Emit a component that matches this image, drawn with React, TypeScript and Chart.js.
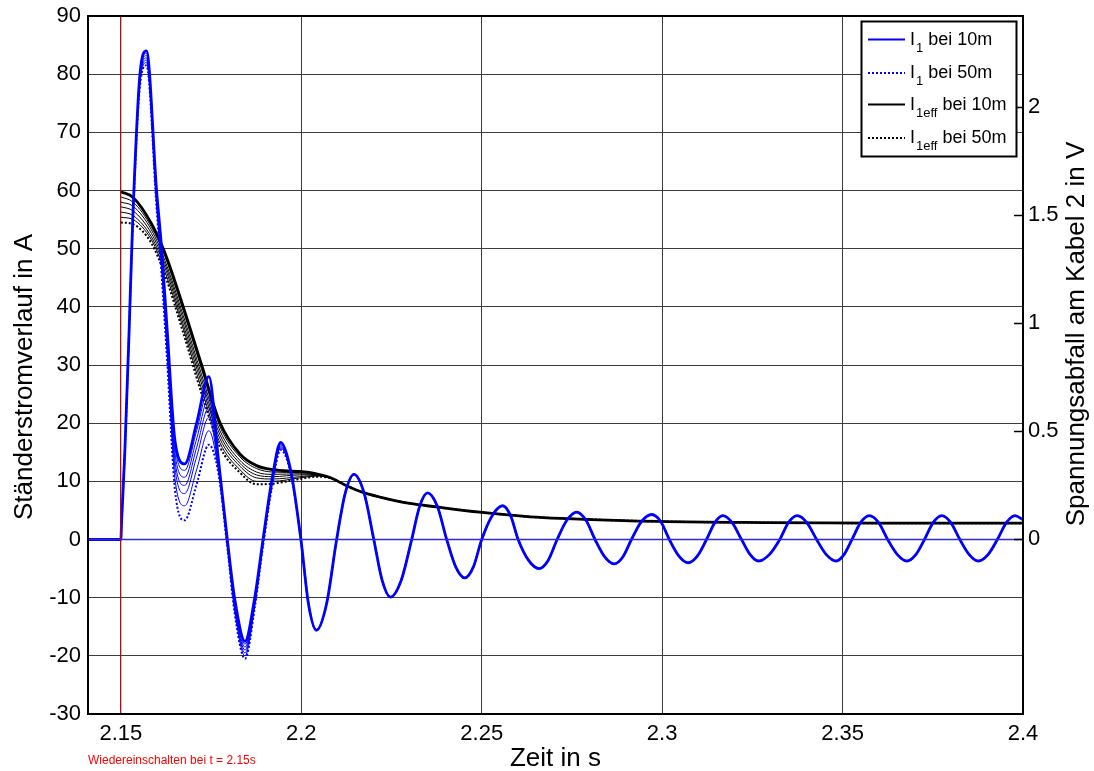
import React, { useEffect, useRef } from "react";
import { Chart, registerables } from "chart.js";

Chart.register(...registerables);

// ---------- axes ----------
const X_MIN = 2.1409;
const X_MAX = 2.4;
const X_TICKS = [2.15, 2.2, 2.25, 2.3, 2.35, 2.4];
const Y_LEFT_MIN = -30;
const Y_LEFT_MAX = 90;
const Y_RIGHT_MIN = -0.81;
const Y_RIGHT_MAX = 2.42;
const Y_RIGHT_TICKS = [0, 0.5, 1, 1.5, 2];

const X_TITLE = "Zeit in s";
const Y_LEFT_TITLE = "Ständerstromverlauf in A";
const Y_RIGHT_TITLE = "Spannungsabfall am Kabel 2 in V";
const NOTE_TEXT = "Wiedereinschalten bei t = 2.15s";
const SWITCH_TIME = 2.15;

// ---------- I1 (stator current), 7 cable lengths: 10m ... 50m ----------
const T_I1_HEAD = [2.1409, 2.15, 2.1502, 2.1511, 2.1523, 2.1533, 2.1553, 2.1571, 2.1599, 2.1613, 2.1628, 2.165, 2.1677, 2.171, 2.1744, 2.177, 2.1795, 2.1815, 2.1844, 2.1871, 2.1894, 2.1918, 2.1943, 2.1971];
const I1_10M_HEAD = [0, 0, 3, 15, 36, 55, 80, 84, 60, 50, 36.4, 17, 13, 20, 28, 14, 0, -10, -17.5, -10, 0, 10, 16.7, 11.8];
const I1_B_HEAD = [0, 0, 3, 15, 36, 55, 79.7, 83.6, 59.5, 49.3, 35.6, 16, 11.9, 18.7, 25.9, 13.6, -0.2, -10.4, -18, -10.3, -0.2, 9.8, 16.5, 11.7];
const I1_C_HEAD = [0, 0, 3, 15, 36, 55, 79.4, 83.2, 59, 48.6, 34.8, 14.8, 10.7, 17.3, 24.4, 13.2, -0.4, -10.8, -18.5, -10.6, -0.4, 9.6, 16.3, 11.6];
const I1_D_HEAD = [0, 0, 3, 15, 36, 55, 79.1, 82.8, 58.5, 47.9, 34, 13.6, 9.3, 15.8, 22.7, 12.8, -0.6, -11.2, -19, -10.9, -0.6, 9.4, 16.1, 11.5];
const I1_E_HEAD = [0, 0, 3, 15, 36, 55, 78.8, 82.4, 58, 47.2, 33.2, 12.3, 7.9, 14.2, 21, 12.4, -0.8, -11.6, -19.5, -11.2, -0.8, 9.2, 15.9, 11.4];
const I1_F_HEAD = [0, 0, 3, 15, 36, 55, 78.5, 82, 57.5, 46.5, 32.2, 10.5, 5.8, 12, 18.7, 12, -1, -12, -20, -11.5, -1, 9, 15.7, 11.3];
const I1_50M_HEAD = [0, 0, 3, 15, 36, 54, 78, 81.5, 57, 45.5, 31, 8.5, 3.3, 9.5, 16.3, 11.5, -1.3, -12.5, -20.5, -11.8, -1.2, 8.7, 15.4, 11.2];

// common decaying 50 Hz oscillation after the transients (shared by all cable lengths)
const T_I1_TAIL = [
  2.1999, 2.202, 2.2042, 2.207, 2.2098, 2.2122, 2.2146, 2.2174, 2.2201, 2.2224, 2.2247, 2.2277,
  2.2306, 2.2328, 2.235, 2.2377, 2.2403, 2.2428, 2.2453, 2.2477, 2.25, 2.2529, 2.2558, 2.258,
  2.2601, 2.263, 2.2659, 2.2684, 2.2709, 2.2736, 2.2763, 2.2789, 2.2814, 2.2841, 2.2867, 2.2891,
  2.2915, 2.2943, 2.2971, 2.2996, 2.302, 2.3046, 2.3072, 2.3098, 2.3123, 2.3146, 2.3168, 2.3194,
  2.322, 2.3244, 2.3267, 2.3297, 2.3326, 2.335, 2.3374, 2.3401, 2.3428, 2.3455, 2.3482, 2.3504,
  2.3526, 2.355, 2.3574, 2.36, 2.3625, 2.3652, 2.3678, 2.3703, 2.3727, 2.3751, 2.3775, 2.38,
  2.3825, 2.3851, 2.3876, 2.3903, 2.3929, 2.3954, 2.3978, 2.4,
];
const I1_TAIL = [
  0, -11.1, -15.6, -11.1, 0, 8.0, 11.2, 8.0, 0, -7.0, -9.9, -7.0,
  0, 5.7, 8.0, 5.7, 0, -4.7, -6.6, -4.7, 0, 4.1, 5.8, 4.1,
  0, -3.6, -5.0, -3.6, 0, 3.3, 4.7, 3.3, 0, -3.0, -4.2, -3.0,
  0, 3.1, 4.3, 3.1, 0, -2.8, -4.0, -2.8, 0, 2.9, 4.1, 2.9,
  0, -2.6, -3.7, -2.6, 0, 2.9, 4.1, 2.9, 0, -2.6, -3.7, -2.6,
  0, 2.9, 4.1, 2.9, 0, -2.6, -3.7, -2.6, 0, 2.9, 4.1, 2.9,
  0, -2.6, -3.7, -2.6, 0, 2.9, 4.1, 3.4,
];

// ---------- I1eff (rms current), 7 cable lengths ----------
const T_EFF_HEAD = [2.15, 2.1534, 2.1585, 2.1622, 2.1673, 2.1724, 2.1774, 2.183, 2.1876, 2.1921, 2.1996, 2.2042, 2.2078];
const EFF_10M_HEAD = [59.8, 58.8, 54.3, 49.3, 40.0, 30.0, 20.2, 14.7, 12.7, 12.0, 11.7, 11.3, 10.7];
const EFF_B_HEAD = [58.9, 58.0, 53.7, 48.7, 39.3, 29.2, 19.5, 14.2, 12.2, 11.6, 11.5, 11.2, 10.7];
const EFF_C_HEAD = [58.0, 57.3, 53.2, 48.0, 38.5, 28.3, 18.8, 13.6, 11.6, 11.2, 11.3, 11.1, 10.7];
const EFF_D_HEAD = [57.2, 56.5, 52.6, 47.4, 37.8, 27.5, 18.1, 13.1, 11.1, 10.8, 11.1, 11.1, 10.7];
const EFF_E_HEAD = [56.3, 55.7, 52.0, 46.8, 37.0, 26.7, 17.4, 12.6, 10.6, 10.4, 10.8, 11.0, 10.6];
const EFF_F_HEAD = [55.4, 55.0, 51.5, 46.1, 36.3, 25.8, 16.7, 12.0, 10.0, 10.0, 10.6, 10.9, 10.6];
const EFF_50M_HEAD = [54.5, 54.2, 50.9, 45.5, 35.5, 25.0, 16.0, 11.5, 9.5, 9.6, 10.4, 10.8, 10.6];

const T_EFF_TAIL = [2.2124, 2.2171, 2.2218, 2.2301, 2.2375, 2.2495, 2.2634, 2.2735, 2.2994, 2.329, 2.36, 2.4];
const EFF_TAIL = [9.3, 8.1, 7.3, 6.2, 5.6, 4.7, 3.9, 3.6, 3.1, 2.9, 2.8, 2.8];

// ---------- legend ----------
const LEGEND_ITEMS = [
  { main: "I", sub: "1", rest: " bei 10m", color: "#0000ff", dash: [] as number[] },
  { main: "I", sub: "1", rest: " bei 50m", color: "#0000ff", dash: [2, 2] },
  { main: "I", sub: "1eff", rest: " bei 10m", color: "#000000", dash: [] as number[] },
  { main: "I", sub: "1eff", rest: " bei 50m", color: "#000000", dash: [2, 2] },
];

const FONT = '"Liberation Sans", Arial, Helvetica, sans-serif';

function pts(ts: number[], vs: number[]) {
  return ts.map((t, i) => ({ x: t, y: vs[i] }));
}

type Kind = "thick" | "thin" | "dotted";

function curve(data: { x: number; y: number }[], color: string, kind: Kind) {
  return {
    data,
    borderColor: color,
    backgroundColor: color,
    borderWidth: kind === "thick" ? 2.8 : kind === "dotted" ? 2 : 1,
    borderDash: kind === "dotted" ? [2, 2] : [],
    pointRadius: 0,
    fill: false,
    cubicInterpolationMode: "monotone" as const,
    yAxisID: "y",
  };
}

const overlayPlugin = {
  id: "overlay",
  afterDraw(chart: any) {
    const ctx: CanvasRenderingContext2D = chart.ctx;
    const a = chart.chartArea;
    ctx.save();
    // frame
    ctx.strokeStyle = "#000";
    ctx.lineWidth = 2;
    ctx.setLineDash([]);
    ctx.strokeRect(a.left, a.top, a.right - a.left, a.bottom - a.top);
    // inward ticks of the right axis
    const y2 = chart.scales.y2;
    ctx.lineWidth = 1.5;
    Y_RIGHT_TICKS.forEach((v) => {
      const y = Math.round(y2.getPixelForValue(v)) + 0.5;
      ctx.beginPath();
      ctx.moveTo(a.right - 9, y);
      ctx.lineTo(a.right, y);
      ctx.stroke();
    });

    // axis titles
    ctx.fillStyle = "#000";
    ctx.font = `26px ${FONT}`;
    ctx.textAlign = "center";
    ctx.textBaseline = "middle";
    ctx.fillText(X_TITLE, (a.left + a.right) / 2, 759);
    ctx.save();
    ctx.translate(25, 377);
    ctx.rotate(-Math.PI / 2);
    ctx.fillText(Y_LEFT_TITLE, 0, 0);
    ctx.restore();
    ctx.save();
    ctx.translate(1077, 334);
    ctx.rotate(-Math.PI / 2);
    ctx.fillText(Y_RIGHT_TITLE, 0, 0);
    ctx.restore();

    // note
    ctx.fillStyle = "#ff0000";
    ctx.font = `12px ${FONT}`;
    ctx.textAlign = "left";
    ctx.fillText(NOTE_TEXT, 88, 761);

    // legend
    const bx = 861.5, by = 21.5, bw = 155, bh = 135;
    ctx.fillStyle = "#fff";
    ctx.fillRect(bx, by, bw, bh);
    ctx.strokeStyle = "#000";
    ctx.lineWidth = 2;
    ctx.strokeRect(bx, by, bw, bh);
    const lineYs = [39.5, 73, 104.5, 138];
    const baseYs = [45, 78, 110, 143];
    LEGEND_ITEMS.forEach((it, i) => {
      ctx.strokeStyle = it.color;
      ctx.lineWidth = 2;
      ctx.setLineDash(it.dash);
      ctx.beginPath();
      ctx.moveTo(868, lineYs[i]);
      ctx.lineTo(905, lineYs[i]);
      ctx.stroke();
      ctx.setLineDash([]);
      ctx.fillStyle = "#000";
      ctx.textBaseline = "alphabetic";
      ctx.textAlign = "left";
      let x = 910;
      ctx.font = `18px ${FONT}`;
      ctx.fillText(it.main, x, baseYs[i]);
      x += ctx.measureText(it.main).width + 1;
      ctx.font = `13px ${FONT}`;
      ctx.fillText(it.sub, x, baseYs[i] + 7);
      x += ctx.measureText(it.sub).width;
      ctx.font = `18px ${FONT}`;
      ctx.fillText(it.rest, x, baseYs[i]);
    });
    ctx.restore();
  },
};

function noPad(s: any) {
  s.paddingTop = 0;
  s.paddingBottom = 0;
  s.paddingLeft = 0;
  s.paddingRight = 0;
}

export default function App() {
  const ref = useRef<HTMLCanvasElement | null>(null);

  useEffect(() => {
    if (!ref.current) return;
    Chart.defaults.font.family = FONT;
    const blueHeads = [I1_10M_HEAD, I1_B_HEAD, I1_C_HEAD, I1_D_HEAD, I1_E_HEAD, I1_F_HEAD, I1_50M_HEAD];
    const effHeads = [EFF_10M_HEAD, EFF_B_HEAD, EFF_C_HEAD, EFF_D_HEAD, EFF_E_HEAD, EFF_F_HEAD, EFF_50M_HEAD];
    const kindOf = (i: number, n: number): Kind => (i === 0 ? "thick" : i === n - 1 ? "dotted" : "thin");

    const datasets: any[] = [];
    datasets.push({
      data: [{ x: SWITCH_TIME, y: Y_LEFT_MIN }, { x: SWITCH_TIME, y: Y_LEFT_MAX }],
      borderColor: "#d40000",
      borderWidth: 1,
      pointRadius: 0,
      yAxisID: "y",
    });
    datasets.push({
      data: [{ x: X_MIN, y: 0 }, { x: X_MAX, y: 0 }],
      borderColor: "#2b2bd0",
      borderWidth: 1.5,
      pointRadius: 0,
      yAxisID: "y",
    });
    // thin ones first, then dotted, then thick
    const order = [1, 2, 3, 4, 5, 6, 0];
    order.forEach((i) => {
      datasets.push(
        curve(
          pts(T_I1_HEAD.concat(T_I1_TAIL), blueHeads[i].concat(I1_TAIL)),
          "#0000ff",
          kindOf(i, blueHeads.length)
        )
      );
    });
    order.forEach((i) => {
      datasets.push(
        curve(
          pts(T_EFF_HEAD.concat(T_EFF_TAIL), effHeads[i].concat(EFF_TAIL)),
          "#000000",
          kindOf(i, effHeads.length)
        )
      );
    });

    const chart = new Chart(ref.current, {
      type: "line",
      data: { datasets },
      options: {
        animation: false,
        responsive: false,
        maintainAspectRatio: false,
        layout: { padding: { top: 16, left: 0, right: 0, bottom: 0 } },
        plugins: { legend: { display: false }, tooltip: { enabled: false }, title: { display: false } },
        scales: {
          x: {
            type: "linear",
            min: X_MIN,
            max: X_MAX,
            afterBuildTicks: (s: any) => {
              s.ticks = X_TICKS.map((v) => ({ value: v }));
            },
            afterFit: (s: any) => {
              s.height = 57;
              noPad(s);
            },
            ticks: {
              autoSkip: false,
              maxRotation: 0,
              padding: 7,
              color: "#000",
              font: { size: 22, family: FONT },
              callback: (v: any) => String(+Number(v).toFixed(2)),
            },
            grid: { color: "#3c3c3c", lineWidth: 1, drawTicks: false },
            border: { display: true, color: "#000", width: 2 },
          },
          y: {
            type: "linear",
            position: "left",
            min: Y_LEFT_MIN,
            max: Y_LEFT_MAX,
            afterFit: (s: any) => {
              s.width = 88;
              noPad(s);
            },
            ticks: {
              stepSize: 10,
              padding: 7,
              color: "#000",
              font: { size: 22, family: FONT },
            },
            grid: { color: "#3c3c3c", lineWidth: 1, drawTicks: false },
            border: { display: true, color: "#000", width: 2 },
          },
          y2: {
            type: "linear",
            position: "right",
            min: Y_RIGHT_MIN,
            max: Y_RIGHT_MAX,
            afterBuildTicks: (s: any) => {
              s.ticks = Y_RIGHT_TICKS.map((v) => ({ value: v }));
            },
            afterFit: (s: any) => {
              s.width = 71;
              noPad(s);
            },
            ticks: {
              padding: 5,
              color: "#000",
              font: { size: 22, family: FONT },
              callback: (v: any) => String(+Number(v).toFixed(2)),
            },
            grid: { drawOnChartArea: false, drawTicks: false },
            border: { display: true, color: "#000", width: 2 },
          },
        },
      },
      plugins: [overlayPlugin],
    });
    return () => chart.destroy();
  }, []);

  return (
    <div style={{ position: "fixed", left: 0, top: 0, width: 1094, height: 771, background: "#fff" }}>
      <canvas ref={ref} width={1094} height={771} style={{ display: "block" }} />
    </div>
  );
}
